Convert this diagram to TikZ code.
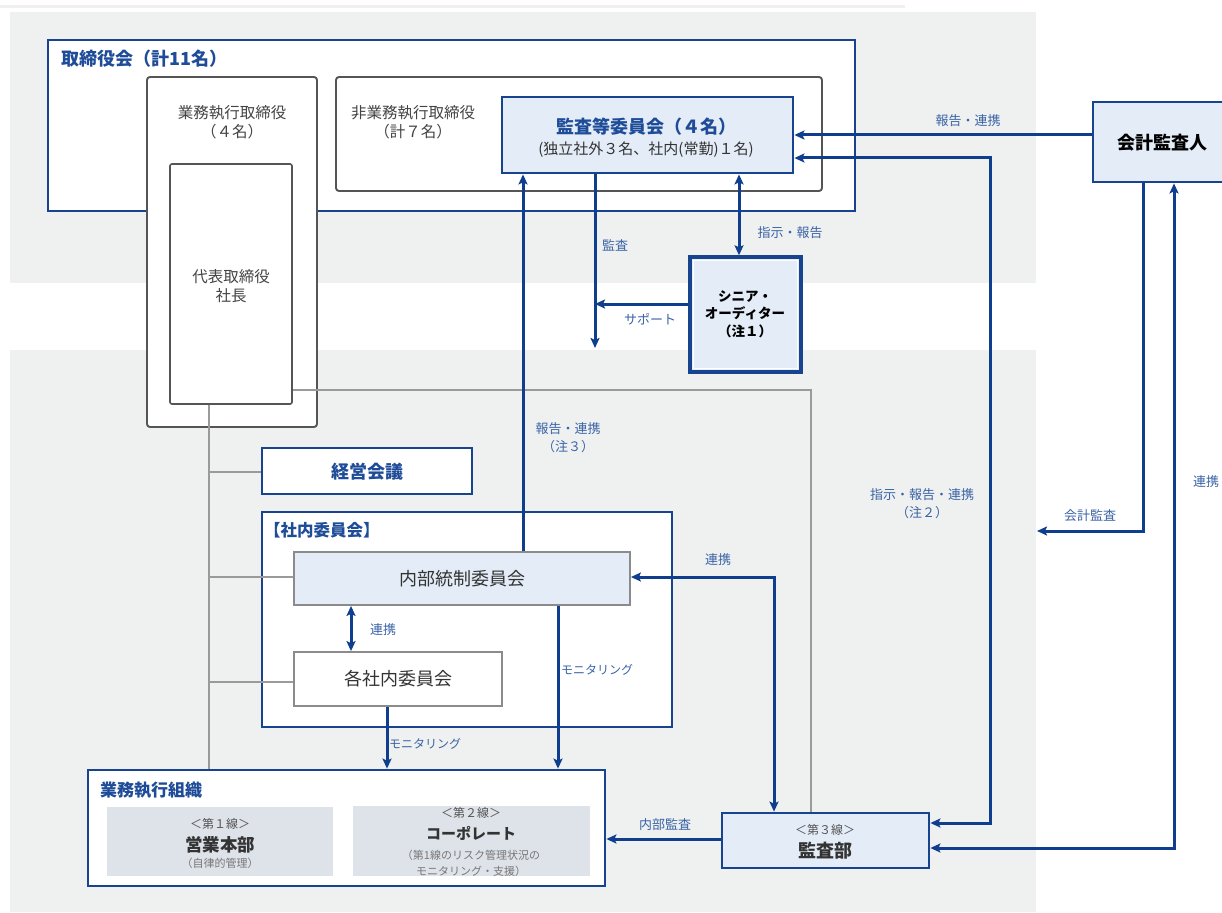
\documentclass[tikz,border=0pt]{standalone}
\usepackage{fontspec}
\setmainfont{Noto Sans CJK JP}
\usetikzlibrary{arrows.meta,fit}
\definecolor{bgc}{HTML}{EFF0F0}
\definecolor{bluec}{HTML}{17438F}
\definecolor{connc}{HTML}{103E8E}
\definecolor{lblc}{HTML}{3A63A6}
\definecolor{ttlc}{HTML}{1E4C98}
\definecolor{lbfill}{HTML}{E3ECF7}
\definecolor{gyfill}{HTML}{DEE2E9}
\definecolor{dkgray}{HTML}{555555}
\definecolor{txtc}{HTML}{333333}
\definecolor{glinec}{HTML}{9A9A9A}
\tikzset{
  ah/.tip={Stealth[length=10pt,width=9pt,inset=2pt]},
  bluebox/.style={draw=bluec,line width=2.8pt,fill=white,inner sep=0pt},
  lbbox/.style={draw=bluec,line width=2.8pt,fill=lbfill,inner sep=0pt},
  rbox/.style={draw=dkgray,line width=1.9pt,fill=white,rounded corners=3pt,inner sep=0pt},
  gbox/.style={draw=glinec!90!black,line width=1.8pt,inner sep=0pt},
  fbox/.style={fill=gyfill,inner sep=0pt},
  conn/.style={draw=connc,line width=3pt},
  gline/.style={draw=glinec,line width=1.5pt},
  lbl/.style={text=lblc,font=\fontsize{13}{18}\selectfont,inner sep=0pt,align=center},
  ttl/.style={text=ttlc,font=\bfseries\fontsize{17}{20}\selectfont,inner sep=0pt},
  gtxt/.style={text=dkgray!80!black,font=\fontsize{15.5}{18.5}\selectfont,inner sep=0pt,align=center},
  btxt/.style={text=txtc,font=\fontsize{18}{21}\selectfont,inner sep=0pt,align=center},
}
\begin{document}
\begin{tikzpicture}[x=1pt,y=-1pt]
\useasboundingbox (0,0) rectangle (1222,912);
\fill[white] (0,0) rectangle (1222,912);
% backgrounds
\draw[black!6,line width=3pt] (0,7) -- (905,7);
\fill[bgc] (10,12) rectangle (1036,283);
\fill[bgc] (10,350) rectangle (1036,912);

% board
\node[bluebox,fit={(48,40)(855,211)}] (board) {};
\node[ttl,font=\bfseries\fontsize{18}{21}\selectfont,anchor=west] (boardT) at (61,59) {取締役会（計11名）};
\node[rbox,fit={(147,77)(317,427)}] (exec) {};
\node[gtxt] (execT) at (232,122) {業務執行取締役\\（４名）};
\node[rbox,line width=1.6pt,rounded corners=2pt,fit={(170,164)(292,404)}] (daihyo) {};
\node[gtxt] (daihyoT) at (231,286) {代表取締役\\社長};
\node[rbox,fit={(336,77)(822,191)}] (nonexec) {};
\node[gtxt] (nonexecT) at (413,122) {非業務執行取締役\\（計７名）};
\node[lbbox,fit={(502,97)(793,173)}] (kansa) {};
\node[text=ttlc,font=\bfseries\fontsize{18}{21}\selectfont,inner sep=0pt] (kansaT1) at (646,127) {監査等委員会（４名）};
\node[text=txtc,font=\fontsize{15}{18}\selectfont,inner sep=0pt] (kansaT2) at (646,150) {(独立社外３名、社内(常勤)１名)};

% accounting auditor
\node[lbbox,fit={(1093,102)(1240,182)}] (kaikei) {};
\node[text=black,font=\bfseries\fontsize{18}{21}\selectfont,inner sep=0pt] (kaikeiT) at (1162,143) {会計監査人};

% senior auditor
\node[lbbox,line width=3.4pt,fit={(690,257)(801,372)}] (senior) {};
\draw[white,line width=1.2pt] (693.5,260.5) rectangle (797.5,368.5);
\node[text=black,font=\bfseries\fontsize{13.5}{17.5}\selectfont,inner sep=0pt,align=center] (seniorT) at (745,314) {シニア・\\オーディター\\（注１）};

% management meeting
\node[bluebox,fit={(262,448)(472,494)}] (keiei) {};
\node[text=ttlc,font=\bfseries\fontsize{18}{21}\selectfont,inner sep=0pt] (keieiT) at (367,472) {経営会議};

% internal committees
\node[bluebox,fit={(262,512)(672,727)}] (shanai) {};
\node[text=ttlc,font=\bfseries\fontsize{16.5}{19}\selectfont,inner sep=0pt,anchor=west] (shanaiT) at (264,530) {【社内委員会】};
\node[gbox,fill=lbfill,fit={(294,552)(630,605)}] (naibu) {};
\node[btxt] (naibuT) at (462,579) {内部統制委員会};
\node[gbox,fill=white,fit={(294,652)(502,706)}] (kakusha) {};
\node[btxt] (kakushaT) at (398,679) {各社内委員会};

% business execution organization
\node[bluebox,fit={(88,770)(605,886)}] (gyomu) {};
\node[ttl,anchor=west] (gyomuT) at (100,790) {業務執行組織};
\node[fbox,fit={(107,807)(333,876)}] (line1) {};
\node[text=dkgray,font=\fontsize{12}{14}\selectfont,inner sep=0pt] (l1a) at (220,824) {＜第１線＞};
\node[text=txtc,font=\bfseries\fontsize{17.5}{20}\selectfont,inner sep=0pt] (l1b) at (220,845) {営業本部};
\node[text=dkgray!80,font=\fontsize{11}{13}\selectfont,inner sep=0pt] (l1c) at (220,863) {（自律的管理）};
\node[fbox,fit={(353,806)(590,876)}] (line2) {};
\node[text=dkgray,font=\fontsize{12}{14}\selectfont,inner sep=0pt] (l2a) at (471,813) {＜第２線＞};
\node[text=txtc,font=\bfseries\fontsize{15}{18}\selectfont,inner sep=0pt] (l2b) at (471,833) {コーポレート};
\node[text=dkgray!80,font=\fontsize{11}{16}\selectfont,inner sep=0pt,align=center] (l2c) at (471,863) {（第1線のリスク管理状況の\\モニタリング・支援）};

% audit department
\node[lbbox,fit={(722,813)(929,868)}] (kansabu) {};
\node[text=dkgray,font=\fontsize{12}{14}\selectfont,inner sep=0pt] (kbT1) at (825,830) {＜第３線＞};
\node[text=txtc,font=\bfseries\fontsize{18}{21}\selectfont,inner sep=0pt] (kbT2) at (825,851) {監査部};

% gray lines
\draw[gline] (daihyo.south -| 209,0) -- (gyomu.north -| 209,0);
\draw[gline] (209,472) -- (keiei.west |- 0,472);
\draw[gline] (209,577) -- (naibu.west |- 0,577);
\draw[gline] (209,682) -- (kakusha.west |- 0,682);
\draw[gline] (daihyo.east |- 0,390) -| (kansabu.north -| 811,0);

% free end coordinates
\coordinate (kansaEnd) at (595,348);
\coordinate (kaikeiEnd) at (1037,531);

% blue connectors
\draw[conn,-{ah}] (kaikei.west |- 0,135) -- (kansa.east |- 0,135);
\draw[conn,{ah}-{ah}] (kansa.east |- 0,158) -- (990,158) -- (990,823) -- (kansabu.east |- 0,823);
\draw[conn,-{ah}] (kaikei.south -| 1143,0) |- (kaikeiEnd);
\draw[conn,{ah}-{ah}] (kansabu.east |- 0,848) -| (kaikei.south -| 1174,0);
\draw[conn,-{ah}] (kansa.south -| 595,0) -- (kansaEnd);
\draw[conn,-{ah}] (senior.west |- 0,304) -- (595,304);
\draw[conn,{ah}-{ah}] (kansa.south -| 739,0) -- (senior.north -| 739,0);
\draw[conn,-{ah}] (naibu.north -| 523,0) -- (kansa.south -| 523,0);
\draw[conn,{ah}-{ah}] (naibu.east |- 0,577) -| (kansabu.north -| 774,0);
\draw[conn,-{ah}] (naibu.south -| 558,0) -- (gyomu.north -| 558,0);
\draw[conn,-{ah}] (kakusha.south -| 387,0) -- (gyomu.north -| 387,0);
\draw[conn,{ah}-{ah}] (naibu.south -| 351,0) -- (kakusha.north -| 351,0);
\draw[conn,-{ah}] (kansabu.west |- 0,839) -- (gyomu.east |- 0,839);

% labels
\node[lbl] (lb1) at (968,121) {報告・連携};
\node[lbl] (lb2) at (615,245) {監査};
\node[lbl] (lb3) at (790,233) {指示・報告};
\node[lbl] (lb4) at (650,319) {サポート};
\node[lbl] (lb5) at (568,438) {報告・連携\\（注３）};
\node[lbl] (lb6) at (922,504) {指示・報告・連携\\（注２）};
\node[lbl] (lb7) at (1090,516) {会計監査};
\node[lbl,anchor=west] (lb8) at (1193,482) {連携};
\node[lbl] (lb9) at (718,560) {連携};
\node[lbl] (lb10) at (383,630) {連携};
\node[lbl,font=\fontsize{12}{14}\selectfont] (lb11) at (597,670) {モニタリング};
\node[lbl,font=\fontsize{12}{14}\selectfont] (lb12) at (425,744) {モニタリング};
\node[lbl] (lb13) at (665,825) {内部監査};
\end{tikzpicture}
\end{document}
